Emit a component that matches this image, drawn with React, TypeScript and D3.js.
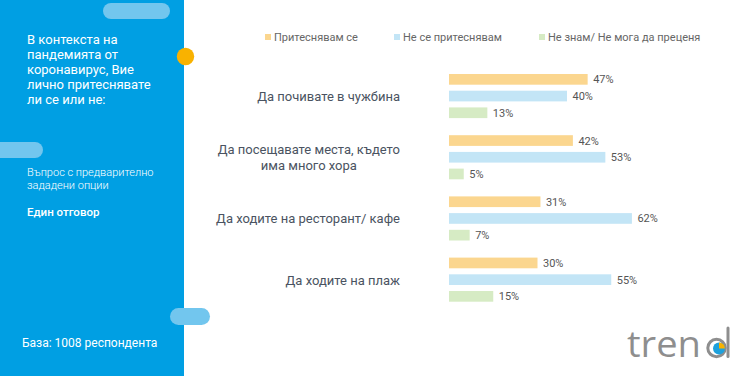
import React, { useEffect, useRef } from "react";
import * as d3 from "d3";

const categories = [
  "Да почивате в чужбина",
  "Да посещавате места, където\nима много хора",
  "Да ходите на ресторант/ кафе",
  "Да ходите на плаж",
];
const seriesNames = ["Притеснявам се", "Не се притеснявам", "Не знам/ Не мога да преценя"];
const worried = [47, 42, 31, 30];
const notWorried = [40, 53, 62, 55];
const dontKnow = [13, 5, 7, 15];
const seriesColors = ["#FBD68F", "#C3E5F6", "#D6EBC4"];

const questionLines = ["В контекста на", "пандемията от", "коронавирус, Вие", "лично притеснявате", "ли се или не:"];
const typeLines = ["Въпрос с предварително", "зададени опции"];
const answerType = "Един отговор";
const baseText = "База: 1008 респондента";

const W = 740;
const H = 376;
const FONT = "Roboto, 'Noto Sans', sans-serif";

export default function App() {
  const ref = useRef<SVGSVGElement>(null);

  useEffect(() => {
    const svg = d3.select(ref.current);
    svg.selectAll("*").remove();

    // left panel
    svg.append("rect").attr("x", 0).attr("y", 0).attr("width", 184).attr("height", H).attr("fill", "#009FE3");
    const pill = "#72C6EE";
    svg.append("rect").attr("x", 103).attr("y", 3).attr("width", 67).attr("height", 16).attr("rx", 8).attr("fill", pill);
    svg.append("rect").attr("x", -10).attr("y", 142).attr("width", 53).attr("height", 16).attr("rx", 8).attr("fill", pill);
    svg.append("rect").attr("x", 170).attr("y", 308).attr("width", 40).attr("height", 17).attr("rx", 8.5).attr("fill", pill);
    svg.append("circle").attr("cx", 185.5).attr("cy", 56.5).attr("r", 8.7).attr("fill", "#F9B200");

    const q = svg.append("text").attr("font-family", FONT).attr("font-size", 13).attr("fill", "#fff");
    questionLines.forEach((l, i) => q.append("tspan").attr("x", 27).attr("y", 44 + i * 15).text(l));

    const t = svg.append("text").attr("font-family", FONT).attr("font-size", 11).attr("font-weight", 300).attr("fill", "#fff");
    typeLines.forEach((l, i) => t.append("tspan").attr("x", 27).attr("y", 176 + i * 12.5).text(l));

    svg.append("text").attr("x", 27).attr("y", 216).attr("font-family", FONT).attr("font-size", 11.5)
      .attr("font-weight", 500).attr("fill", "#fff").text(answerType);

    svg.append("text").attr("x", 22).attr("y", 347).attr("font-family", FONT).attr("font-size", 12)
      .attr("fill", "#fff").text(baseText);

    // legend
    const legendX = [265, 394, 539];
    seriesNames.forEach((n, i) => {
      svg.append("rect").attr("x", legendX[i]).attr("y", 34).attr("width", 6).attr("height", 6).attr("fill", seriesColors[i]);
      svg.append("text").attr("x", legendX[i] + 9).attr("y", 41).attr("font-family", FONT).attr("font-size", 11)
        .attr("fill", "#666").text(n);
    });

    // chart
    const series = [worried, notWorried, dontKnow];
    const x = d3.scaleLinear().domain([0, 100]).range([449, 744]);
    const y0 = d3.scaleBand<string>().domain(categories).range([74, 74 + 4 * 61.2]).paddingInner(0);
    const y1 = d3.scaleBand<number>().domain([0, 1, 2]).range([0, 44.1]).paddingInner(0.36);

    categories.forEach((c, ci) => {
      const gy = y0(c)!;
      const center = gy + 22.5;
      const lines = c.split("\n");
      const lbl = svg.append("text").attr("font-family", FONT).attr("font-size", 13).attr("fill", "#4A5361");
      if (lines.length === 1) {
        lbl.attr("x", 400).attr("y", center + 4.5).attr("text-anchor", "end").text(lines[0]);
      } else {
        const first = lbl.append("tspan").attr("x", 400).attr("y", center - 3.5).attr("text-anchor", "end").text(lines[0]);
        const w = (first.node() as SVGTSpanElement).getComputedTextLength();
        const mid = 400 - w / 2;
        first.attr("x", mid).attr("text-anchor", "middle");
        lbl.append("tspan").attr("x", mid).attr("y", center + 12).attr("text-anchor", "middle").text(lines[1]);
      }
      series.forEach((s, si) => {
        const by = gy + y1(si)!;
        const bh = y1.bandwidth();
        svg.append("rect").attr("x", x(0)).attr("y", by).attr("width", x(s[ci]) - x(0)).attr("height", bh)
          .attr("fill", seriesColors[si]);
        svg.append("text").attr("x", x(s[ci]) + 5.5).attr("y", by + bh / 2 + 4).attr("font-family", FONT)
          .attr("font-size", 11).attr("fill", "#555").text(`${s[ci]}%`);
      });
    });

    // logo
    const gray = "#8E8E8E";
    svg.append("text").attr("x", 627).attr("y", 357).attr("font-family", "'Open Sans', sans-serif").attr("font-size", 36)
      .attr("font-weight", 400).attr("textLength", 74).attr("lengthAdjust", "spacingAndGlyphs").attr("fill", gray).text("tren");
    svg.append("circle").attr("cx", 716.5).attr("cy", 348).attr("r", 8.7).attr("fill", "none").attr("stroke", gray).attr("stroke-width", 3);
    svg.append("line").attr("x1", 728).attr("x2", 728).attr("y1", 328).attr("y2", 356.5).attr("stroke", gray).attr("stroke-width", 3).attr("stroke-linecap", "round");
    const pie = svg.append("g").attr("transform", "translate(719,348.5)");
    pie.append("circle").attr("r", 6).attr("fill", "#1EA1DC");
    const arc = d3.arc<any>().innerRadius(0).outerRadius(6);
    pie.append("path").attr("d", arc({ startAngle: 0, endAngle: Math.PI / 2 }) as string).attr("fill", "#F9B200");
  }, []);

  return (
    <svg ref={ref} width={W} height={H} style={{ position: "absolute", left: 0, top: 0, background: "#fff" }} />
  );
}
